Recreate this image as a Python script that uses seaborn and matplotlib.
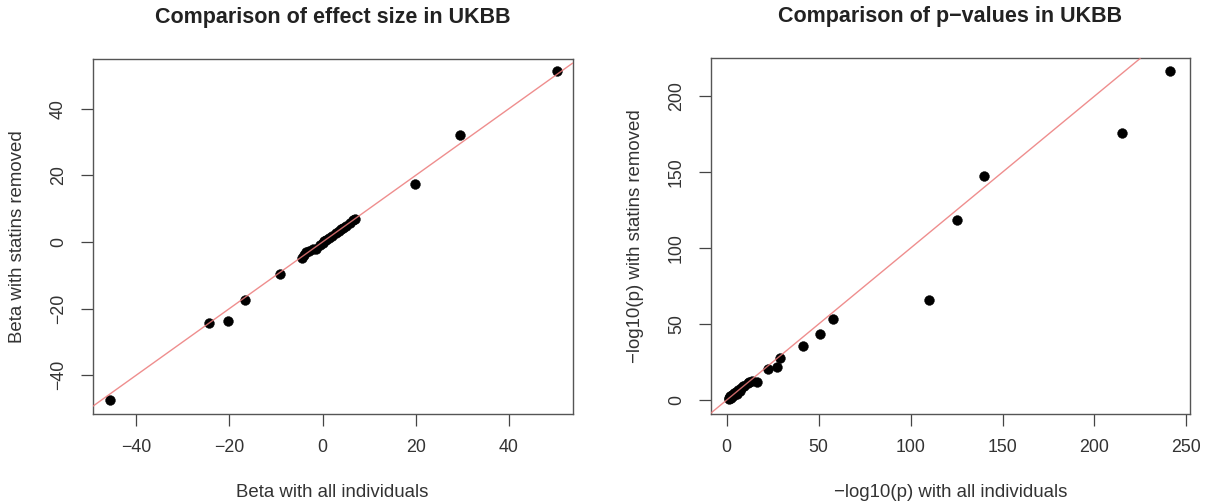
import matplotlib
matplotlib.use("Agg")
import matplotlib.pyplot as plt
import seaborn as sns
import numpy as np
import pandas as pd

# ---- data ----
beta_all = [-45.5, -24.4, -20.2, -16.7, -9.1,
            -4.5, -4.0, -3.5, -3.0, -2.0, -1.5, -0.5, 0.0, 0.3, 0.8,
            1.5, 2.0, 3.0, 3.5, 4.0, 4.5, 5.0, 5.8, 6.5, 7.0,
            19.9, 29.6, 50.2]
beta_rm = [-47.4, -24.2, -23.7, -17.5, -9.5,
           -4.7, -4.0, -3.0, -2.6, -2.0, -2.2, -0.8, -0.3, 0.2, 0.6,
           1.2, 1.8, 2.8, 3.3, 3.8, 4.2, 4.8, 5.8, 6.5, 7.0,
           17.5, 32.0, 51.3]

logp_all = [241.1, 214.8, 139.7, 125.3, 110.0, 57.8, 50.9, 41.5, 29.2, 27.3,
            22.5, 16.4, 13.7, 11.6, 9.5, 8.0, 7.0, 6.0, 5.5, 5.0, 4.0, 3.5,
            3.0, 2.5, 2.0, 1.5, 1.0, 9.0, 12.0]
logp_rm = [216.4, 175.9, 147.7, 118.4, 66.1, 53.0, 43.3, 35.4, 27.8, 21.7,
           20.2, 11.8, 12.5, 11.4, 9.2, 8.0, 6.0, 6.5, 4.0, 5.5, 4.5, 2.5,
           3.5, 1.5, 2.5, 0.8, 1.5, 9.5, 12.0]

titles = ["Comparison of effect size in UKBB", "Comparison of p\u2212values in UKBB"]
xlabels = ["Beta with all individuals", "\u2212log10(p) with all individuals"]
ylabels = ["Beta with statins removed", "\u2212log10(p) with statins removed"]
xticks = [[-40, -20, 0, 20, 40], [0, 50, 100, 150, 200, 250]]
yticks = [[-40, -20, 0, 20, 40], [0, 50, 100, 150, 200]]

sns.set_style("white")
plt.rcParams['font.family'] = ['Liberation Sans', 'DejaVu Sans']
plt.rcParams['axes.unicode_minus'] = True

fig = plt.figure(figsize=(12.05, 5.04), dpi=100)
ax1 = fig.add_axes([0.0769, 0.1792, 0.3983, 0.7038])
ax2 = fig.add_axes([0.5898, 0.1792, 0.3978, 0.7050])

df1 = pd.DataFrame({"x": beta_all, "y": beta_rm})
df2 = pd.DataFrame({"x": logp_all, "y": logp_rm})

lims = [((-49.3, 53.65), (-51.5, 54.9)), ((-8.7, 252.0), (-9.0, 224.9))]

for i, (ax, df) in enumerate([(ax1, df1), (ax2, df2)]):
    sns.scatterplot(data=df, x="x", y="y", ax=ax, color="black", s=50,
                    edgecolor="black", linewidth=0.3, zorder=2)
    ax.axline((0, 0), slope=1, color="#ec7a7a", lw=1.0, zorder=3, alpha=0.85)
    ax.set_xlim(*lims[i][0])
    ax.set_ylim(*lims[i][1])
    ax.set_xticks(xticks[i])
    ax.set_yticks(yticks[i])
    ax.set_xticklabels([str(v).replace('-', '\u2212') for v in xticks[i]])
    ax.set_yticklabels([str(v).replace('-', '\u2212') for v in yticks[i]],
                       rotation=90, va='center')
    ax.tick_params(axis='both', direction='out', length=8.5, width=0.9,
                   color='#444444', labelsize=12.8, labelcolor='#333333',
                   left=True, bottom=True, pad=10)
    for sp in ax.spines.values():
        sp.set_visible(True)
        sp.set_color('#555555')
        sp.set_linewidth(1.0)
    ax.set_xlabel(xlabels[i], fontsize=13.4, color='#333333', labelpad=20)
    ax.set_ylabel(ylabels[i], fontsize=13.4, color='#333333', labelpad=17)
    ax.set_title(titles[i], fontsize=15.5, fontweight='bold', color='#222222', pad=26)

fig.savefig("out.png", dpi=100)
